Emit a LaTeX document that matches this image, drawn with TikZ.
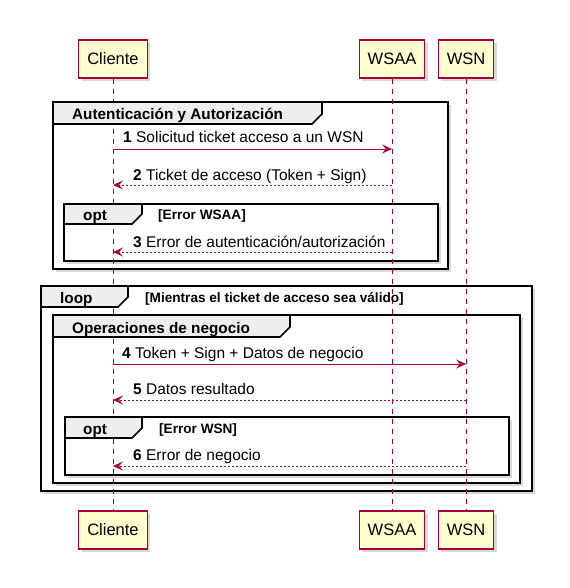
\documentclass[tikz,border=0pt]{standalone}
\usepackage{fontspec}
\setmainfont{Liberation Sans}
\usepackage{tikz}
\usetikzlibrary{arrows.meta,positioning,calc,shadows}
\definecolor{partfill}{HTML}{FEFECE}
\definecolor{plred}{HTML}{A80036}
\definecolor{tabgray}{HTML}{EEEEEE}

\begin{document}
\begin{tikzpicture}[
    x=1bp, y=-1bp,
    participant/.style={rectangle, draw=plred, fill=partfill, line width=1.2bp,
        minimum height=38bp, inner xsep=8.5bp, font=\fontsize{16.5bp}{18bp}\selectfont,
        drop shadow={shadow xshift=3bp, shadow yshift=-3bp, fill=black!30}},
    lifeline/.style={draw=plred, line width=0.8bp, dash pattern=on 5bp off 5bp},
    msg/.style={draw=plred, line width=0.9bp, -{Stealth[length=10bp,width=9bp,inset=4bp]}},
    reply/.style={msg, dash pattern=on 2bp off 2bp},
    msglabel/.style={anchor=base west, inner sep=0pt, font=\fontsize{15.5bp}{17bp}\selectfont},
    frame/.style={draw=black, line width=1.6bp, fill=white,
        drop shadow={shadow xshift=3bp, shadow yshift=-3bp, fill=black!30}},
    tab/.style={draw=black, line width=1.6bp, fill=tabgray},
    tablabel/.style={anchor=base west, inner sep=0pt, font=\bfseries\fontsize{15.3bp}{17bp}\selectfont},
    guard/.style={anchor=base west, inner sep=0pt, font=\bfseries\fontsize{13.6bp}{15bp}\selectfont}
]
\useasboundingbox (0,0) rectangle (570,588);

% Frames
\draw[frame] (53,102) rectangle (448,269);
\draw[frame] (64,204) rectangle (438,261);
\draw[frame] (41,286) rectangle (532,491);
\draw[frame] (53,315) rectangle (520,483);
\draw[frame] (65,417) rectangle (509,475);

% Participants
\node[participant] (cliTop) at (113,59) {Cliente};
\node[participant] (wsaaTop) at (392,59) {WSAA};
\node[participant] (wsnTop) at (466,59) {WSN};
\node[participant] (cliBot) at (113,530) {Cliente};
\node[participant] (wsaaBot) at (392,530) {WSAA};
\node[participant] (wsnBot) at (466,530) {WSN};

% Lifelines
\draw[lifeline] (cliTop.south) -- (cliBot.north);
\draw[lifeline] (wsaaTop.south) -- (wsaaBot.north);
\draw[lifeline] (wsnTop.south) -- (wsnBot.north);

% Tabs
\draw[tab] (53,102) -- (322,102) -- (322,114) -- (312,124) -- (53,124) -- cycle;
\node[tablabel] (g1) at (72,120) {Autenticación y Autorización};
\draw[tab] (64,204) -- (142,204) -- (142,214) -- (132,224) -- (64,224) -- cycle;
\node[tablabel] (opt1) at (83,220) {opt};
\node[guard] (opt1guard) at (158,219) {[Error WSAA]};
\draw[tab] (41,286) -- (128,286) -- (128,297) -- (118,307) -- (41,307) -- cycle;
\node[tablabel] (loop) at (60,303) {loop};
\node[guard] (loopguard) at (145,302) {[Mientras el ticket de acceso sea válido]};
\draw[tab] (53,315) -- (290,315) -- (290,327) -- (280,337) -- (53,337) -- cycle;
\node[tablabel] (g2) at (72,333) {Operaciones de negocio};
\draw[tab] (65,417) -- (142,417) -- (142,428) -- (132,438) -- (65,438) -- cycle;
\node[tablabel] (opt2) at (83,434) {opt};
\node[guard] (opt2guard) at (159,433) {[Error WSN]};

% Messages
\draw[msg] (cliTop |- 0,149) -- (wsaaTop |- 0,149);
\node[msglabel] (m1) at (123,143) {\textbf{1} Solicitud ticket acceso a un WSN};
\draw[reply] (wsaaTop |- 0,185) -- (cliTop |- 0,185);
\node[msglabel] (m2) at (133,180) {\textbf{2} Ticket de acceso (Token + Sign)};
\draw[reply] (wsaaTop |- 0,252) -- (cliTop |- 0,252);
\node[msglabel] (m3) at (133,247) {\textbf{3} Error de autenticación/autorización};
\draw[msg] (cliTop |- 0,364) -- (wsnTop |- 0,364);
\node[msglabel] (m4) at (122,358) {\textbf{4} Token + Sign + Datos de negocio};
\draw[reply] (wsnTop |- 0,400) -- (cliTop |- 0,400);
\node[msglabel] (m5) at (133,394) {\textbf{5} Datos resultado};
\draw[reply] (wsnTop |- 0,466) -- (cliTop |- 0,466);
\node[msglabel] (m6) at (133,460) {\textbf{6} Error de negocio};

\end{tikzpicture}
\end{document}
